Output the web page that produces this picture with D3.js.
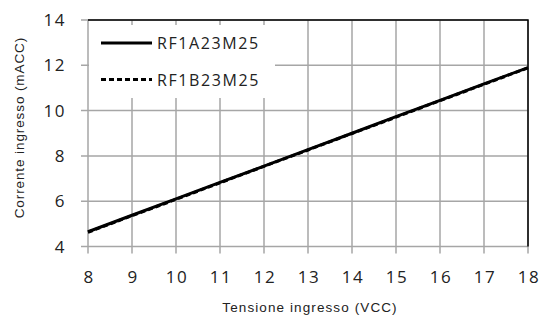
<!DOCTYPE html>
<html>
<head>
<meta charset="utf-8">
<script src="https://cdn.jsdelivr.net/npm/d3@7"></script>
<style>
  body { margin: 0; background: #fff; }
  svg { display: block; }
</style>
</head>
<body>
<svg id="chart"></svg>
<script>
// values
var voltage = [8, 9, 10, 11, 12, 13, 14, 15, 16, 17, 18];
var currentA = [4.65, 5.38, 6.10, 6.83, 7.55, 8.28, 9.00, 9.73, 10.45, 11.18, 11.90];
var currentB = [4.63, 5.36, 6.08, 6.81, 7.54, 8.26, 8.99, 9.71, 10.44, 11.16, 11.89];
var seriesNames = ["RF1A23M25", "RF1B23M25"];
var xTicks = [8, 9, 10, 11, 12, 13, 14, 15, 16, 17, 18];
var yTicks = [4, 6, 8, 10, 12, 14];

var width = 542,
    height = 323,
    margin = {top: 20, right: 14, bottom: 76.5, left: 88};

var svg = d3.select("#chart")
    .attr("width", width)
    .attr("height", height);

var x = d3.scaleLinear()
    .domain([8, 18])
    .range([margin.left, width - margin.right]);

var y = d3.scaleLinear()
    .domain([4, 14])
    .range([height - margin.bottom, margin.top]);

var grey = "#a6a6a6";

// gridlines
svg.append("g")
    .selectAll("line")
    .data(xTicks)
    .enter()
    .append("line")
    .attr("x1", function (d) { return x(d); })
    .attr("x2", function (d) { return x(d); })
    .attr("y1", y(14))
    .attr("y2", y(4) + 7)
    .style("stroke", grey)
    .style("stroke-width", "1.5px");

svg.append("g")
    .selectAll("line")
    .data(yTicks)
    .enter()
    .append("line")
    .attr("x1", x(8) - 7)
    .attr("x2", x(18))
    .attr("y1", function (d) { return y(d); })
    .attr("y2", function (d) { return y(d); })
    .style("stroke", grey)
    .style("stroke-width", "1.5px");

// dark top and right border
svg.append("path")
    .attr("d", "M" + x(8) + "," + y(14) + "H" + x(18) + "V" + y(4))
    .style("fill", "none")
    .style("stroke", "#000")
    .style("stroke-width", "1.5px");

// tick labels
svg.append("g")
    .selectAll("text")
    .data(xTicks)
    .enter()
    .append("text")
    .attr("x", function (d) { return x(d) + 1; })
    .attr("y", 283)
    .attr("text-anchor", "middle")
    .style("font-family", "Open Sans")
    .style("font-size", "17px")
    .style("letter-spacing", "1.5px")
    .style("fill", "#222")
    .text(function (d) { return d; });

svg.append("g")
    .selectAll("text")
    .data(yTicks)
    .enter()
    .append("text")
    .attr("x", 66)
    .attr("y", function (d) { return y(d) + 6; })
    .attr("text-anchor", "end")
    .style("font-family", "Open Sans")
    .style("font-size", "17px")
    .style("letter-spacing", "1.5px")
    .style("fill", "#222")
    .text(function (d) { return d; });

// axis titles
svg.append("text")
    .attr("x", (x(8) + x(18)) / 2 + 2)
    .attr("y", 312)
    .attr("text-anchor", "middle")
    .style("font-family", "Liberation Sans")
    .style("font-size", "13.5px")
    .style("letter-spacing", "1.1px")
    .style("fill", "#222")
    .text("Tensione ingresso (VCC)");

svg.append("text")
    .attr("transform", "translate(24," + (y(9) + y(9.5)) / 2 + ") rotate(-90)")
    .attr("text-anchor", "middle")
    .style("font-family", "Liberation Sans")
    .style("font-size", "13.5px")
    .style("letter-spacing", "0.9px")
    .style("fill", "#222")
    .text("Corrente ingresso (mACC)");

// series lines
var line = d3.line()
    .x(function (d) { return x(d[0]); })
    .y(function (d) { return y(d[1]); });

svg.append("path")
    .datum(d3.zip(voltage, currentA))
    .attr("d", line)
    .style("fill", "none")
    .style("stroke", "#000")
    .style("stroke-width", "3px");

svg.append("path")
    .datum(d3.zip(voltage, currentB))
    .attr("d", line)
    .style("fill", "none")
    .style("stroke", "#000")
    .style("stroke-width", "3px")
    .style("stroke-dasharray", "5,3");

// legend
var legend = svg.append("g");

legend.append("rect")
    .attr("x", x(8) + 1)
    .attr("y", 25)
    .attr("width", 186)
    .attr("height", 73)
    .style("fill", "#fff");

var dashes = ["none", "5,3"];
seriesNames.forEach(function (name, i) {
    var ly = 43 + i * 36.5;
    legend.append("line")
        .attr("x1", 101)
        .attr("x2", 152)
        .attr("y1", ly)
        .attr("y2", ly)
        .style("stroke", "#000")
        .style("stroke-width", "3px")
        .style("stroke-dasharray", dashes[i]);
    legend.append("text")
        .attr("x", 157)
        .attr("y", ly + 6)
        .style("font-family", "Open Sans")
        .style("font-size", "16px")
        .style("letter-spacing", "1.6px")
        .style("fill", "#222")
        .text(name);
});
</script>
</body>
</html>
